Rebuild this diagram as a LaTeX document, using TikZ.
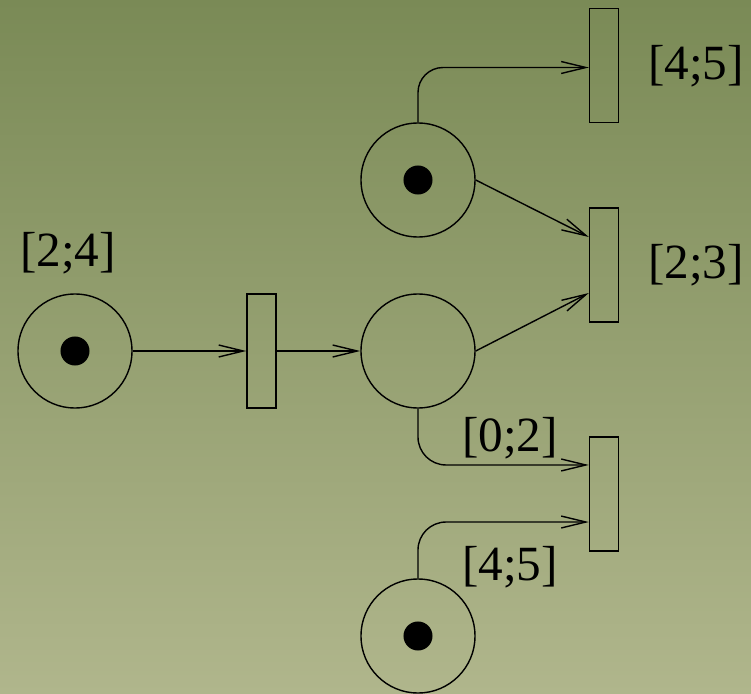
\documentclass[tikz,border=0pt]{standalone}
\usepackage{fontspec}
\setmainfont{Liberation Serif}
\usetikzlibrary{arrows.meta}
\definecolor{bgtop}{RGB}{122,138,86}
\definecolor{bgbottom}{RGB}{176,182,140}

\begin{document}
\begin{tikzpicture}[x=0.01cm,y=-0.01cm,line width=0.4pt,
        >={Straight Barb[length=7pt,width=3.4pt]},
        place/.style={draw,circle,minimum size=1.14cm,inner sep=0pt},
        token/.style={fill,circle,minimum size=0.29cm,inner sep=0pt},
        transition/.style={draw,rectangle,minimum width=0.29cm,minimum height=1.14cm,inner sep=0pt},
        delay/.style={font=\fontsize{14}{16}\selectfont}]
        \shade [top color=bgtop,bottom color=bgbottom] (0,0) rectangle (751,694);
        \useasboundingbox (0,0) rectangle (751,694);
        % places
        \node [place] (P1) at (75,351) {};
        \node [place] (P2) at (418,351) {};
        \node [place] (P3) at (418,180) {};
        \node [place] (P4) at (418,636) {};
        \node [token] at (P1) {};
        \node [token] at (P3) {};
        \node [token] at (P4) {};
        % transitions
        \node [transition] (T1) at (261.5,351) {};
        \node [transition] (T2) at (604,65.5) {};
        \node [transition] (T3) at (604,265) {};
        \node [transition] (T4) at (604,494) {};
        % time intervals
        \node [delay] (D1) at (68,253) {[2;4]};
        \node [delay] (D2) at (696,66) {[4;5]};
        \node [delay] (D3) at (696,265) {[2;3]};
        \node [delay] (D4) at (510,438) {[0;2]};
        \node [delay] (D5) at (510,567) {[4;5]};
        % arcs
        \draw [->] (P1) -- (T1);
        \draw [->] (T1) -- (P2);
        \draw [->,rounded corners=0.25cm] (P3.north) |- ([yshift=-0.02cm]T2.west);
        \draw [->] (P3.east) -- ([yshift=0.28cm]T3.west);
        \draw [->] (P2.east) -- ([yshift=-0.28cm]T3.west);
        \draw [->,rounded corners=0.28cm] (P2.south) |- ([yshift=0.29cm]T4.west);
        \draw [->,rounded corners=0.28cm] (P4.north) |- ([yshift=-0.28cm]T4.west);
    \end{tikzpicture}
\end{document}
